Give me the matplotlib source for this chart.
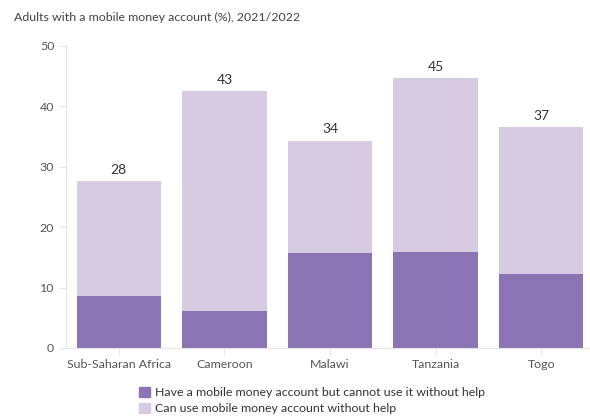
import matplotlib.pyplot as plt
from matplotlib.patches import Patch
import numpy as np

# data
countries = ["Sub-Saharan Africa", "Cameroon", "Malawi", "Tanzania", "Togo"]
need_help = [8.6, 6.1, 15.7, 15.9, 12.3]
no_help = [19.0, 36.4, 18.6, 28.8, 24.3]
total_labels = ["28", "43", "34", "45", "37"]

dark = "#8a74b4"
light = "#d6cbe0"
txt = "#555555"

plt.rcParams["font.family"] = ["Lato", "DejaVu Sans"]

fig = plt.figure(figsize=(5.9, 4.16), dpi=100)
ax = fig.add_axes([66 / 590, 68 / 416, 528 / 590, 302 / 416])

x = np.arange(len(countries))
ax.bar(x, need_help, 0.8, color=dark)
ax.bar(x, no_help, 0.8, bottom=need_help, color=light)

# total on top of each bar
for xi, a, b, lab in zip(x, need_help, no_help, total_labels):
    ax.text(xi, a + b + 0.9, lab, ha="center", va="bottom", fontsize=10, color="#333333")

ax.set_xlim(-0.5, 4.5)
ax.set_ylim(0, 50)
ax.set_yticks(range(0, 51, 10))
ax.set_xticks(x)
ax.set_xticklabels(countries)

for s in ["top", "right"]:
    ax.spines[s].set_visible(False)
ax.spines["left"].set_color("#e6e6e6")
ax.spines["bottom"].set_color("#e6e6e6")
ax.tick_params(axis="both", colors="#e6e6e6", labelcolor=txt, labelsize=8.9, length=5)
ax.tick_params(axis="x", pad=3)

fig.text(14 / 590, 1 - 17 / 416, "Adults with a mobile money account (%), 2021/2022",
         fontsize=8.9, color="#444444", va="center")

handles = [Patch(color=dark, label="Have a mobile money account but cannot use it without help"),
           Patch(color=light, label="Can use mobile money account without help")]
fig.legend(handles=handles, loc="lower left", bbox_to_anchor=(128 / 590, -0.022),
           frameon=False, fontsize=8.9, handlelength=0.9, handleheight=0.9,
           handletextpad=0.4, labelspacing=0.35, labelcolor="#333333")

fig.savefig("out.png", dpi=100)
